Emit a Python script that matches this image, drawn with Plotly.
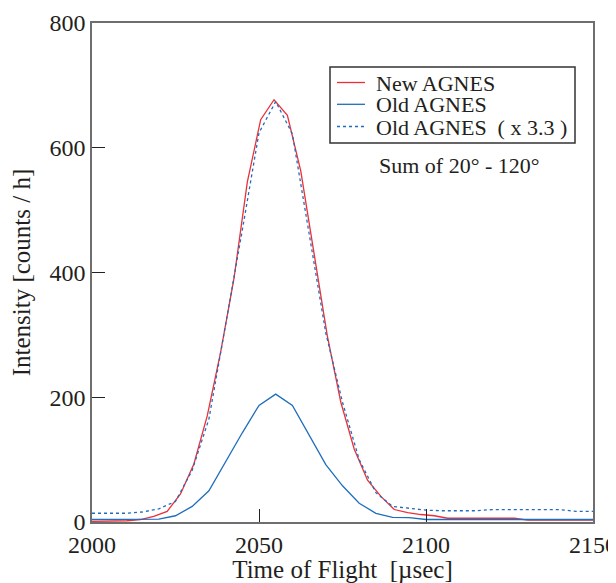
import plotly.graph_objects as go

# ---------------- data ----------------
# New AGNES (4 us channels)
new_tof = [1998.5, 2002.5, 2006.5, 2010.5, 2014.5, 2018.5, 2022.5, 2026.5, 2030.5, 2034.5,
           2038.5, 2042.5, 2046.5, 2050.5, 2054.5, 2058.5, 2062.5, 2066.5, 2070.5, 2074.5,
           2078.5, 2082.5, 2086.5, 2090.5, 2094.5, 2098.5, 2102.5, 2106.5, 2110.5, 2114.5,
           2118.5, 2122.5, 2126.5, 2130.5, 2134.5, 2138.5, 2142.5, 2146.5, 2150.5]
new_counts = [1, 1, 1, 2, 4, 9, 17, 45, 93, 170,
              272, 390, 545, 645, 677, 652, 563, 432, 297, 192,
              117, 67, 41, 20, 15, 12, 10, 6, 6, 6,
              6, 6, 6, 3, 3, 3, 3, 3, 3]

# Old AGNES (5 us channels)
old_tof = [2000, 2005, 2010, 2015, 2020, 2025, 2030, 2035, 2040, 2045,
           2050, 2055, 2060, 2065, 2070, 2075, 2080, 2085, 2090, 2095,
           2100, 2105, 2110, 2115, 2120, 2125, 2130, 2135, 2140, 2145, 2150]
old_counts = [4, 4, 4, 4, 4.5, 10, 25, 50, 97, 143,
              187, 205, 187, 140, 92, 58, 30, 14, 7.5, 7,
              4, 4, 4, 4, 4, 4, 4, 4, 4, 4, 4]
# Old AGNES scaled (x 3.3)
old_scaled = [14, 14, 14, 16, 21, 33, 83, 165, 315, 468,
              624, 674, 622, 465, 303, 192, 100, 47, 25, 22,
              19, 18, 18, 18, 20, 20, 20, 20, 20, 17, 17]

legend_labels = ["New AGNES", "Old AGNES", "Old AGNES\u00a0\u00a0( x 3.3 )"]
x_ticks = [2000, 2050, 2100, 2150]
y_ticks = [0, 200, 400, 600, 800]

RED = "#ec3038"
BLUE = "#1f6dbd"
TXT = "#231f20"
FONT = "Liberation Serif"

fig = go.Figure()
fig.add_trace(go.Scatter(x=new_tof, y=new_counts, mode="lines", name=legend_labels[0],
                         line=dict(color=RED, width=1.3)))
fig.add_trace(go.Scatter(x=old_tof, y=old_counts, mode="lines", name=legend_labels[1],
                         line=dict(color=BLUE, width=1.3)))
fig.add_trace(go.Scatter(x=old_tof, y=old_scaled, mode="lines", name=legend_labels[2],
                         line=dict(color=BLUE, width=1.3, dash="3px,3px")))

# page has an 8px body margin; plot area in page pixels: x 92..593, y 23..522
W, H = 608, 575
L, R, T, B = 84, 23, 15, 61
pw, ph = W - L - R, H - T - B

def px(xp):   # page pixel x -> paper
    return (xp - 8 - L) / pw

def py(yp):   # page pixel y -> paper
    return (H - B - (yp - 8)) / ph

shapes = [dict(type="rect", xref="paper", yref="paper",
               x0=px(330), x1=px(575), y0=py(143), y1=py(67),
               line=dict(color="#333333", width=1.5), fillcolor="white", layer="above")]
annotations = []
rows = [82.5, 104.3, 126.5]
styles = [dict(color=RED, width=1.3), dict(color=BLUE, width=1.3),
          dict(color=BLUE, width=1.3, dash="3px,3px")]
for lab, yr, st in zip(legend_labels, rows, styles):
    shapes.append(dict(type="line", xref="paper", yref="paper",
                       x0=px(337), x1=px(365), y0=py(yr), y1=py(yr), line=st, layer="above"))
    annotations.append(dict(xref="paper", yref="paper", x=px(374), y=py(yr + 0.5),
                            xanchor="left", yanchor="middle", text=lab, showarrow=False,
                            font=dict(family=FONT, size=22, color=TXT)))

annotations.append(dict(xref="paper", yref="paper", x=px(459), y=py(166),
                        xanchor="center", yanchor="middle",
                        text="Sum of 20\u00b0 - 120\u00b0", showarrow=False,
                        font=dict(family=FONT, size=22, color=TXT)))

fig.update_layout(
    width=W, height=H,
    margin=dict(l=L, r=R, t=T, b=B, pad=0),
    paper_bgcolor="white", plot_bgcolor="white",
    showlegend=False,
    font=dict(family=FONT, size=22, color=TXT),
    shapes=shapes, annotations=annotations,
    xaxis=dict(range=[2000, 2150], tickvals=x_ticks, ticktext=[str(v) for v in x_ticks],
               ticks="inside", ticklen=13, tickwidth=1, tickcolor="#222222",
               showline=True, linecolor="#6e6e6e", linewidth=1.5, mirror=True,
               showgrid=False, zeroline=False, automargin=False,
               ticklabeloverflow="allow",
               tickfont=dict(family=FONT, size=24, color=TXT),
               title=dict(text="Time of Flight\u00a0\u00a0[\u00b5sec]", standoff=8,
                          font=dict(family=FONT, size=25, color=TXT))),
    yaxis=dict(range=[0, 800], tickvals=y_ticks, ticktext=[str(v) for v in y_ticks],
               ticks="inside", ticklen=13, tickwidth=1, tickcolor="#222222",
               showline=True, linecolor="#6e6e6e", linewidth=1.5, mirror=True,
               showgrid=False, zeroline=False, automargin=False,
               tickfont=dict(family=FONT, size=24, color=TXT),
               title=dict(text="Intensity [counts / h]", standoff=14,
                          font=dict(family=FONT, size=25, color=TXT))),
)

fig.write_html("out.html")
